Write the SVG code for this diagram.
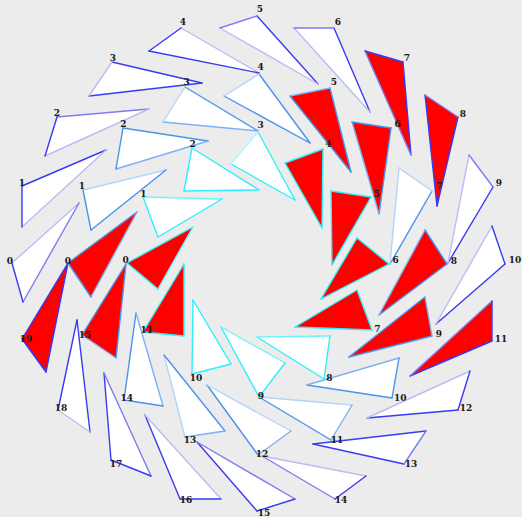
<svg xmlns="http://www.w3.org/2000/svg" width="522" height="517" viewBox="0 0 522 517">
<style>
.w{fill:#fff}.r{fill:#f00}
path{fill:none;stroke-width:1.4;stroke-linecap:round}
.o1{stroke:#3a3af2}.o2{stroke:#7c7cf2}.o3{stroke:#bcbcf4}
.m1{stroke:#4a92ee}.m2{stroke:#7cb2f4}.m3{stroke:#b4d4f8}
.i1{stroke:#30eeff}.i2{stroke:#70f2ff}.i3{stroke:#b0f7ff}
text{font-family:"DejaVu Serif","Liberation Serif",serif;font-weight:bold;font-size:9px;fill:#1a1a1a;text-anchor:middle}
</style>
<rect width="522" height="517" fill="#ececec"/>
<g id="outer">
<g id="o0"><polygon class="w" points="12,263 79,203 23,302"/><path class="o3" d="M12,263L79,203"/><path class="o2" d="M79,203L23,302"/><path class="o1" d="M23,302L12,263"/><text x="10" y="263.5">0</text></g>
<g id="o1"><polygon class="w" points="22,186 106,150 22,227"/><path class="o1" d="M22,186L106,150"/><path class="o3" d="M106,150L22,227"/><path class="o1" d="M22,227L22,186"/><text x="22" y="186">1</text></g>
<g id="o2"><polygon class="w" points="57,117 149,109 45,156"/><path class="o2" d="M57,117L149,109"/><path class="o3" d="M149,109L45,156"/><path class="o1" d="M45,156L57,117"/><text x="57" y="116">2</text></g>
<g id="o3"><polygon class="w" points="112,62 202,83 89,96"/><path class="o1" d="M112,62L202,83"/><path class="o1" d="M202,83L89,96"/><path class="o3" d="M89,96L112,62"/><text x="113" y="61">3</text></g>
<g id="o4"><polygon class="w" points="181,28 259,73 149,51"/><path class="o3" d="M181,28L259,73"/><path class="o1" d="M259,73L149,51"/><path class="o1" d="M149,51L181,28"/><text x="183" y="25">4</text></g>
<g id="o5"><polygon class="w" points="257,16 318,84 220,28"/><path class="o1" d="M257,16L318,84"/><path class="o3" d="M318,84L220,28"/><path class="o2" d="M220,28L257,16"/><text x="260" y="12">5</text></g>
<g id="o6"><polygon class="w" points="334,28 370,112 294,28"/><path class="o1" d="M334,28L370,112"/><path class="o3" d="M370,112L294,28"/><path class="o2" d="M294,28L334,28"/><text x="338" y="25">6</text></g>
<g id="o7"><polygon class="r" points="403,62 411,155 365,51"/><path class="o1" d="M403,62L411,155"/><path class="o2" d="M411,155L365,51"/><path class="o1" d="M365,51L403,62"/><text x="407" y="61">7</text></g>
<g id="o8"><polygon class="r" points="458,117 437,206 425,95"/><path class="o1" d="M458,117L437,206"/><path class="o1" d="M437,206L425,95"/><path class="o2" d="M425,95L458,117"/><text x="463" y="117">8</text></g>
<g id="o9"><polygon class="w" points="493,187 448,263 469,155"/><path class="o1" d="M493,187L448,263"/><path class="o3" d="M448,263L469,155"/><path class="o2" d="M469,155L493,187"/><text x="499" y="186">9</text></g>
<g id="o10"><polygon class="w" points="505,264 436,324 492,226"/><path class="o1" d="M505,264L436,324"/><path class="o3" d="M436,324L492,226"/><path class="o1" d="M492,226L505,264"/><text x="515" y="263">10</text></g>
<g id="o11"><polygon class="r" points="492,341 410,376 492,301"/><path class="o1" d="M492,341L410,376"/><path class="o2" d="M410,376L492,301"/><path class="o1" d="M492,301L492,341"/><text x="501" y="341.5">11</text></g>
<g id="o12"><polygon class="w" points="458,410 367,418 470,371"/><path class="o1" d="M458,410L367,418"/><path class="o3" d="M367,418L470,371"/><path class="o1" d="M470,371L458,410"/><text x="466" y="411">12</text></g>
<g id="o13"><polygon class="w" points="404,464 313,444 426,431"/><path class="o1" d="M404,464L313,444"/><path class="o1" d="M313,444L426,431"/><path class="o2" d="M426,431L404,464"/><text x="411" y="467">13</text></g>
<g id="o14"><polygon class="w" points="335,499 262,456 366,476"/><path class="o2" d="M335,499L262,456"/><path class="o3" d="M262,456L366,476"/><path class="o1" d="M366,476L335,499"/><text x="341" y="503">14</text></g>
<g id="o15"><polygon class="w" points="257,511 197,442 295,499"/><path class="o1" d="M257,511L197,442"/><path class="o2" d="M197,442L295,499"/><path class="o1" d="M295,499L257,511"/><text x="264" y="516">15</text></g>
<g id="o16"><polygon class="w" points="180,499 145,415 221,499"/><path class="o1" d="M180,499L145,415"/><path class="o3" d="M145,415L221,499"/><path class="o1" d="M221,499L180,499"/><text x="186" y="503">16</text></g>
<g id="o17"><polygon class="w" points="111,460 104,373 151,476"/><path class="o1" d="M111,460L104,373"/><path class="o2" d="M104,373L151,476"/><path class="o1" d="M151,476L111,460"/><text x="116" y="467">17</text></g>
<g id="o18"><polygon class="w" points="58,410 77,320 90,432"/><path class="o1" d="M58,410L77,320"/><path class="o1" d="M77,320L90,432"/><path class="o3" d="M90,432L58,410"/><text x="61" y="411">18</text></g>
<g id="o19"><polygon class="r" points="22,339 68,263 46,372"/><path class="o1" d="M22,339L68,263"/><path class="o1" d="M68,263L46,372"/><path class="o1" d="M46,372L22,339"/><text x="26" y="342">19</text></g>
</g>
<g id="middle">
<g id="m0"><polygon class="r" points="68,263 137,212 91,297"/><path class="m1" d="M68,263L137,212"/><path class="m2" d="M137,212L91,297"/><path class="m1" d="M91,297L68,263"/><text x="68" y="263.5">0</text></g>
<g id="m1"><polygon class="w" points="83,190 166,170 91,230"/><path class="m3" d="M83,190L166,170"/><path class="m1" d="M166,170L91,230"/><path class="m1" d="M91,230L83,190"/><text x="82" y="189">1</text></g>
<g id="m2"><polygon class="w" points="123,128 208,141 116,169"/><path class="m1" d="M123,128L208,141"/><path class="m2" d="M208,141L116,169"/><path class="m1" d="M116,169L123,128"/><text x="123.5" y="126.5">2</text></g>
<g id="m3"><polygon class="w" points="185,87 258,131 163,122"/><path class="m1" d="M185,87L258,131"/><path class="m2" d="M258,131L163,122"/><path class="m3" d="M163,122L185,87"/><text x="186.7" y="85">3</text></g>
<g id="m4"><polygon class="w" points="259,74 310,143 224,96"/><path class="m1" d="M259,74L310,143"/><path class="m1" d="M310,143L224,96"/><path class="m3" d="M224,96L259,74"/><text x="260.7" y="70">4</text></g>
<g id="m5"><polygon class="r" points="330,88 351,172 290,96"/><path class="m1" d="M330,88L351,172"/><path class="m1" d="M351,172L290,96"/><path class="m2" d="M290,96L330,88"/><text x="334" y="84.5">5</text></g>
<g id="m6"><polygon class="r" points="391,128 379,214 352,122"/><path class="m1" d="M391,128L379,214"/><path class="m2" d="M379,214L352,122"/><path class="m1" d="M352,122L391,128"/><text x="397.7" y="126.5">6</text></g>
<g id="m7"><polygon class="w" points="432,191 390,264 399,168"/><path class="m1" d="M432,191L390,264"/><path class="m3" d="M390,264L399,168"/><path class="m3" d="M399,168L432,191"/><text x="439.3" y="189">7</text></g>
<g id="m8"><polygon class="r" points="447,264 379,315 425,230"/><path class="m1" d="M447,264L379,315"/><path class="m2" d="M379,315L425,230"/><path class="m1" d="M425,230L447,264"/><text x="454" y="263.5">8</text></g>
<g id="m9"><polygon class="r" points="432,336 349,357 425,297"/><path class="m1" d="M432,336L349,357"/><path class="m1" d="M349,357L425,297"/><path class="m2" d="M425,297L432,336"/><text x="439" y="337.3">9</text></g>
<g id="m10"><polygon class="w" points="392,398 307,385 399,358"/><path class="m1" d="M392,398L307,385"/><path class="m2" d="M307,385L399,358"/><path class="m1" d="M399,358L392,398"/><text x="400.3" y="401">10</text></g>
<g id="m11"><polygon class="w" points="331,440 259,397 352,405"/><path class="m1" d="M331,440L259,397"/><path class="m3" d="M259,397L352,405"/><path class="m2" d="M352,405L331,440"/><text x="337" y="442.7">11</text></g>
<g id="m12"><polygon class="w" points="258,455 207,385 291,431"/><path class="m1" d="M258,455L207,385"/><path class="m3" d="M207,385L291,431"/><path class="m2" d="M291,431L258,455"/><text x="262" y="457">12</text></g>
<g id="m13"><polygon class="w" points="185,437 164,355 225,431"/><path class="m3" d="M185,437L164,355"/><path class="m1" d="M164,355L225,431"/><path class="m2" d="M225,431L185,437"/><text x="190" y="442.7">13</text></g>
<g id="m14"><polygon class="w" points="124,400 136,313 163,406"/><path class="m1" d="M124,400L136,313"/><path class="m2" d="M136,313L163,406"/><path class="m1" d="M163,406L124,400"/><text x="126.7" y="401">14</text></g>
<g id="m15"><polygon class="r" points="82,335 126,264 116,358"/><path class="m1" d="M82,335L126,264"/><path class="m1" d="M126,264L116,358"/><path class="m2" d="M116,358L82,335"/><text x="85" y="338.3">15</text></g>
</g>
<g id="inner">
<g id="i0"><polygon class="r" points="127,263 193,227 158,289"/><path class="i1" d="M127,263L193,227"/><path class="i2" d="M193,227L158,289"/><path class="i1" d="M158,289L127,263"/><text x="125.7" y="263.3">0</text></g>
<g id="i1"><polygon class="w" points="143,197 222,199 158,237"/><path class="i2" d="M143,197L222,199"/><path class="i1" d="M222,199L158,237"/><path class="i1" d="M158,237L143,197"/><text x="143.3" y="196.7">1</text></g>
<g id="i2"><polygon class="w" points="192,148 259,190 184,191"/><path class="i1" d="M192,148L259,190"/><path class="i1" d="M259,190L184,191"/><path class="i1" d="M184,191L192,148"/><text x="192.7" y="146.7">2</text></g>
<g id="i3"><polygon class="w" points="258,132 295,200 231,164"/><path class="i1" d="M258,132L295,200"/><path class="i1" d="M295,200L231,164"/><path class="i3" d="M231,164L258,132"/><text x="260.7" y="128">3</text></g>
<g id="i4"><polygon class="r" points="323,149 322,228 285,163"/><path class="i1" d="M323,149L322,228"/><path class="i1" d="M322,228L285,163"/><path class="i1" d="M285,163L323,149"/><text x="328.3" y="146.7">4</text></g>
<g id="i5"><polygon class="r" points="371,197 332,265 331,191"/><path class="i1" d="M371,197L332,265"/><path class="i1" d="M332,265L331,191"/><path class="i1" d="M331,191L371,197"/><text x="376.7" y="196.7">5</text></g>
<g id="i6"><polygon class="r" points="389,264 321,299 357,238"/><path class="i1" d="M389,264L321,299"/><path class="i1" d="M321,299L357,238"/><path class="i1" d="M357,238L389,264"/><text x="395.7" y="263.3">6</text></g>
<g id="i7"><polygon class="r" points="372,330 295,327 357,290"/><path class="i1" d="M372,330L295,327"/><path class="i1" d="M295,327L357,290"/><path class="i1" d="M357,290L372,330"/><text x="377.3" y="332.3">7</text></g>
<g id="i8"><polygon class="w" points="324,379 257,337 330,336"/><path class="i1" d="M324,379L257,337"/><path class="i2" d="M257,337L330,336"/><path class="i1" d="M330,336L324,379"/><text x="329.3" y="381">8</text></g>
<g id="i9"><polygon class="w" points="259,397 221,327 285,363"/><path class="i1" d="M259,397L221,327"/><path class="i2" d="M221,327L285,363"/><path class="i1" d="M285,363L259,397"/><text x="261" y="398.7">9</text></g>
<g id="i10"><polygon class="w" points="192,374 193,300 231,364"/><path class="i1" d="M192,374L193,300"/><path class="i1" d="M193,300L231,364"/><path class="i1" d="M231,364L192,374"/><text x="196" y="381">10</text></g>
<g id="i11"><polygon class="r" points="143,332 184,264 184,336"/><path class="i1" d="M143,332L184,264"/><path class="i1" d="M184,264L184,336"/><path class="i1" d="M184,336L143,332"/><text x="146.7" y="332.7">11</text></g>
</g>
</svg>
